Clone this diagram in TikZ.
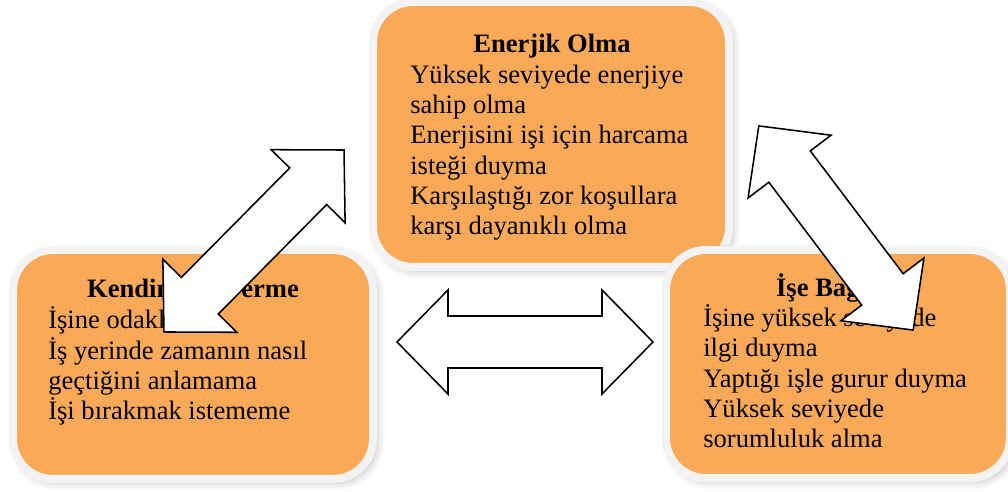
\documentclass[tikz,border=0pt]{standalone}
\usepackage{fontspec}
\setmainfont{Liberation Serif}
\usetikzlibrary{shadows.blur}
\definecolor{enfill}{RGB}{250,169,88}
\definecolor{enedge}{RGB}{243,243,243}
\definecolor{enline}{RGB}{0,0,0}
\tikzset{
  card/.style={
    draw=enedge, fill=enfill, line width=2mm, rounded corners=10mm,
    inner sep=0pt,
    blur shadow={shadow xshift=1mm, shadow yshift=-1mm,
      shadow blur radius=2mm, shadow opacity=25}
  },
  cardhead/.style={font=\fontsize{18.9pt}{21.6pt}\selectfont\bfseries,
    inner sep=0pt, anchor=base},
  % base of a multi-line node is its last line
  cardbody/.style={font=\fontsize{18.9pt}{21.6pt}\selectfont,
    align=left, inner sep=0pt, anchor=base west},
  dblarrow/.pic={
    \draw[draw=enline, fill=white, line width=1.1pt]
      (-128,0) -- (-77,52) -- (-77,26) -- (77,26) -- (77,52) -- (128,0)
      -- (77,-52) -- (77,-26) -- (-77,-26) -- (-77,-52) -- cycle;
  }
}
\begin{document}
\begin{tikzpicture}[x=0.25mm,y=0.25mm]
  \useasboundingbox (0,0) rectangle (1008,492);

  \node[card, minimum width=89mm, minimum height=66.25mm] (enerji) at (551,357.5) {};
  \node[cardhead] (enerjiH) at (552,439) {Enerjik Olma};
  \node[cardbody] (enerjiM) at (410,257)
    {Yüksek seviyede enerjiye\\sahip olma\\Enerjisini işi için harcama\\isteği duyma\\Karşılaştığı zor koşullara\\karşı dayanıklı olma};

  \node[card, minimum width=90mm, minimum height=57.25mm] (kendini) at (193,127.5) {};
  \node[cardhead] (kendiniH) at (193,194) {Kendini İşe Verme};
  \node[cardbody] (kendiniM) at (48,72)
    {İşine odaklanma\\İş yerinde zamanın nasıl\\geçtiğini anlamama\\İşi bırakmak istememe};

  \node[card, minimum width=86mm, minimum height=57mm] (bag) at (838,128) {};
  \node[cardhead] (bagH) at (840,195) {İşe Bağlılık};
  \node[cardbody] (bagM) at (703,44)
    {İşine yüksek seviyede\\ilgi duyma\\Yaptığı işle gurur duyma\\Yüksek seviyede\\sorumluluk alma};

  \pic[rotate=45.3] (solok) at (254,251) {dblarrow};
  \pic[rotate=-52.9] (sagok) at (836,264) {dblarrow};
  \pic (ortaok) at (525,150) {dblarrow};
\end{tikzpicture}
\end{document}
